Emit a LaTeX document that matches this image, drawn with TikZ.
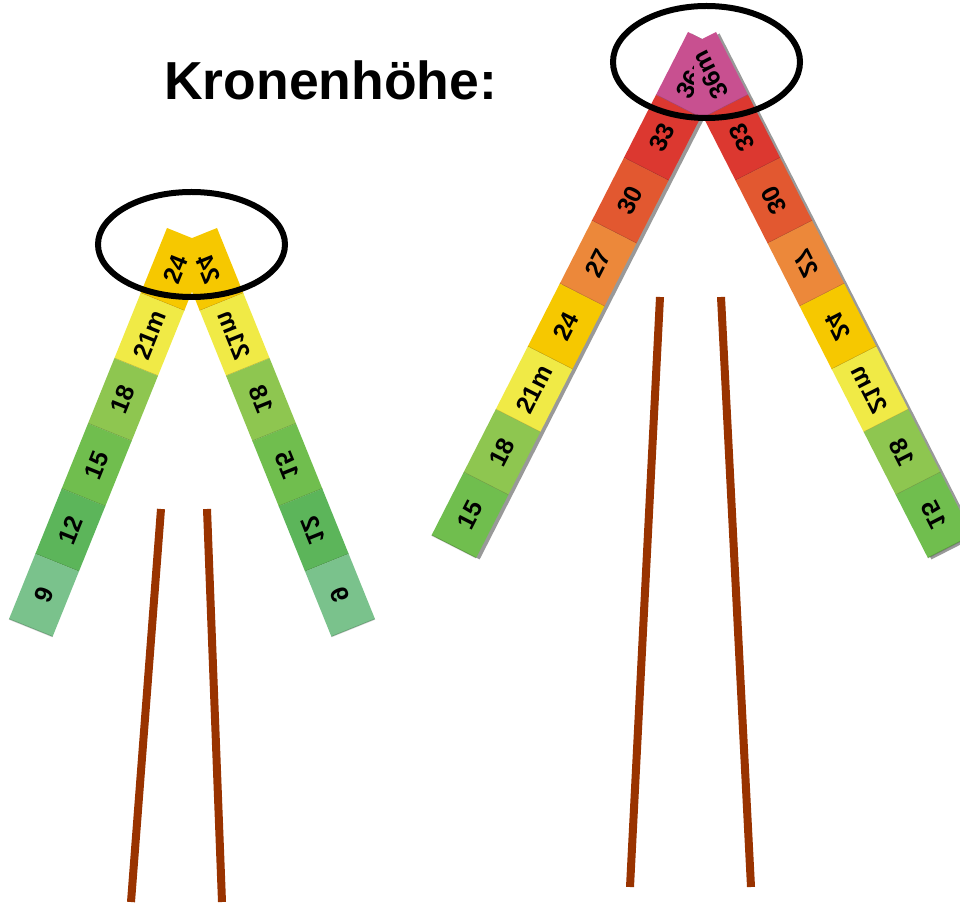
\documentclass[tikz,border=0pt]{standalone}
\usepackage{fontspec}
\setmainfont{Liberation Sans}
\usepackage{tikz}
\definecolor{seg9}{RGB}{122,194,140}
\definecolor{seg12}{RGB}{92,181,90}
\definecolor{seg15}{RGB}{112,190,78}
\definecolor{seg18}{RGB}{142,198,80}
\definecolor{seg21}{RGB}{240,234,70}
\definecolor{seg24}{RGB}{246,200,0}
\definecolor{seg27}{RGB}{236,136,58}
\definecolor{seg30}{RGB}{226,88,48}
\definecolor{seg33}{RGB}{220,56,48}
\definecolor{seg36}{RGB}{200,80,144}
\definecolor{trunkbrown}{RGB}{153,51,0}
\colorlet{shadowgray}{black!40}

% one arm of a folding rule, drawn downwards from its top outer corner
\newcommand{\rulearm}[4]{%
  \foreach \lab/\col [count=\k from 0] in {#4} {
    \fill[\col] (0,{-\k*#3}) rectangle (#2,{-(\k+1)*#3});
    \draw[segline] (0,{-(\k+1)*#3}) -- (#2,{-(\k+1)*#3});
    \node[seglabel] (#1\k) at ({#2/2},{-(\k+0.5)*#3}) {\lab};
  }}

\begin{document}
\begin{tikzpicture}[x=1pt, y=1pt,
    segline/.style={black, opacity=0.18, line width=1.2pt},
    seglabel/.style={transform shape, rotate=90, inner sep=0pt,
      font=\bfseries\fontsize{25}{25}\selectfont},
    crown/.style={draw=black, line width=6pt},
    trunk/.style={draw=trunkbrown, line width=8pt}]
  \useasboundingbox (0,0) rectangle (960,903);
  \clip (0,0) rectangle (960,903);

  \node[anchor=base west, inner sep=0pt, font=\bfseries\fontsize{53.5}{60}\selectfont]
    (title) at (164,803) {Kronenhöhe:};

  % small tree
  \begin{scope}
    \clip (0,0) rectangle (192,903);
    \begin{scope}[shift={(167,675)}, rotate=-22]
      \rulearm{sl}{47}{70.3}{24/seg24, 21m/seg21, 18/seg18, 15/seg15, 12/seg12, 9/seg9}
    \end{scope}
  \end{scope}
  \begin{scope}
    \clip (192,0) rectangle (960,903);
    \begin{scope}[shift={(217,675)}, xscale=-1, rotate=-22]
      \rulearm{sr}{47}{70.3}{24/seg24, 21m/seg21, 18/seg18, 15/seg15, 12/seg12, 9/seg9}
    \end{scope}
  \end{scope}
  \draw[crown] (191.5,658.5) ellipse [x radius=93.5, y radius=52.5];
  \draw[trunk] (161,394) -- (131,1);
  \draw[trunk] (207,394) -- (222,1);

  % tall tree
  \begin{scope}
    \clip (0,0) rectangle (705.5,903);
    \fill[shadowgray, shift={(691.5,869.5)}, rotate=-27] (0,0) rectangle (50,-564.8);
  \end{scope}
  \begin{scope}
    \clip (697.5,0) rectangle (960,903);
    \fill[shadowgray, shift={(719.5,869.5)}, xscale=-1, rotate=-27] (0,0) rectangle (50,-564.8);
  \end{scope}
  \begin{scope}
    \clip (0,0) rectangle (702,903);
    \begin{scope}[shift={(688,871)}, rotate=-27]
      \rulearm{bl}{50}{70.6}{36m/seg36, 33/seg33, 30/seg30, 27/seg27, 24/seg24, 21m/seg21, 18/seg18, 15/seg15}
    \end{scope}
  \end{scope}
  \begin{scope}
    \clip (694,0) rectangle (960,903);
    \begin{scope}[shift={(716,871)}, xscale=-1, rotate=-27]
      \rulearm{br}{50}{70.6}{/seg36, 33/seg33, 30/seg30, 27/seg27, 24/seg24, 21m/seg21, 18/seg18, 15/seg15}
    \end{scope}
    \node[seglabel, rotate=27] (brtop) at (710,828) {36m};
  \end{scope}
  \draw[crown] (706.5,841) ellipse [x radius=93.5, y radius=56];
  \draw[trunk] (660,606) -- (630,16);
  \draw[trunk] (721,606) -- (751,16);
\end{tikzpicture}
\end{document}
